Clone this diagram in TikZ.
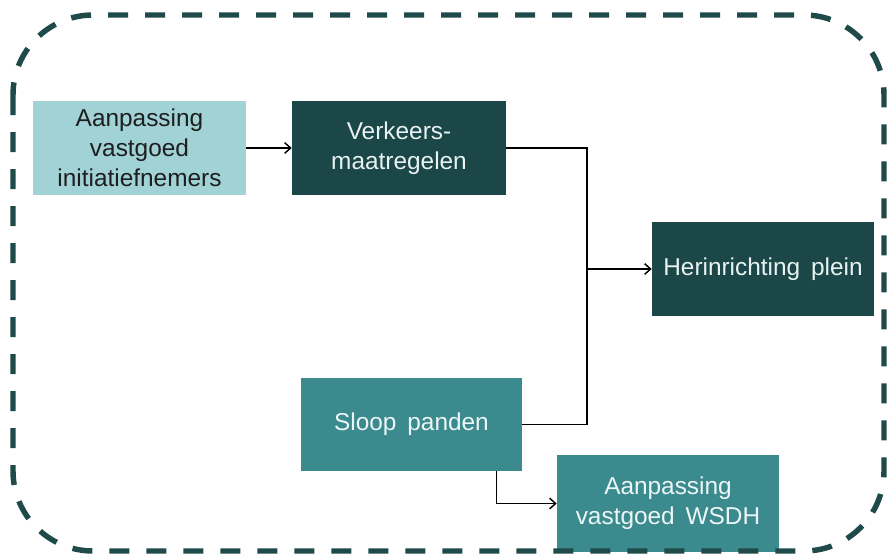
\documentclass[tikz,border=0pt]{standalone}
\usepackage{fontspec}
\setmainfont{Liberation Sans}
\usepackage{tikz}
\usepackage{xcolor}
\usetikzlibrary{arrows.meta}

\begin{document}
\begin{tikzpicture}[x=0.75pt,y=0.75pt,yscale=-1,xscale=1,
    box/.style={draw=none, inner sep=0pt, align=center, font=\fontsize{18.3}{22.5}\selectfont},
    lightbox/.style={box, fill={rgb, 255:red, 160; green, 210; blue, 214 }, text={rgb, 255:red, 30; green, 30; blue, 30 }},
    darkbox/.style={box, fill={rgb, 255:red, 27; green, 71; blue, 72 }, text={rgb, 255:red, 232; green, 242; blue, 242 }},
    tealbox/.style={box, fill={rgb, 255:red, 59; green, 138; blue, 141 }, text={rgb, 255:red, 236; green, 246; blue, 246 }},
    link/.style={draw=black, line width=1.1pt},
    tip/.style={-{Straight Barb[length=4.5pt, width=8pt, line width=1.1pt]}},
    border/.style={color={rgb, 255:red, 30; green, 74; blue, 74 }, line width=4.1pt, dash pattern={on 15pt off 12.75pt}, rounded corners=60pt}
    ]
    \useasboundingbox (0,0) rectangle (888,557);
    
    % Text Node
    \node [lightbox, minimum width=159.75pt, minimum height=70.5pt] (aanpassing) at (139.5,148) {Aanpassing\\vastgoed\\initiatiefnemers};
    % Text Node
    \node [darkbox, minimum width=160.5pt, minimum height=70.5pt] (verkeer) at (399,148) {Verkeers-\\maatregelen};
    % Text Node
    \node [darkbox, minimum width=166.5pt, minimum height=70.5pt] (plein) at (763,269) {Herinrichting\ \,plein};
    % Text Node
    \node [tealbox, minimum width=165.75pt, minimum height=69.75pt] (sloop) at (411.5,424.5) {Sloop\ \,panden};
    % Text Node
    \node [tealbox, minimum width=166.5pt, minimum height=72.75pt] (wsdh) at (668,503.5) {Aanpassing\\vastgoed\ \,WSDH};
    
    %Straight Lines
    \coordinate (split) at (587,269);
    \draw [link, tip] (aanpassing) -- (verkeer);
    \draw [link] (verkeer.east) -| (split) |- (sloop.east);
    \draw [link, tip] (split) -- (plein.west);
    \draw [link, tip] ([xshift=-19.5pt]sloop.south east) |- (wsdh.west);
    
    %Shape: Rounded Rect
    \draw [border] (13,15) rectangle (884,551);
    
\end{tikzpicture}
\end{document}
